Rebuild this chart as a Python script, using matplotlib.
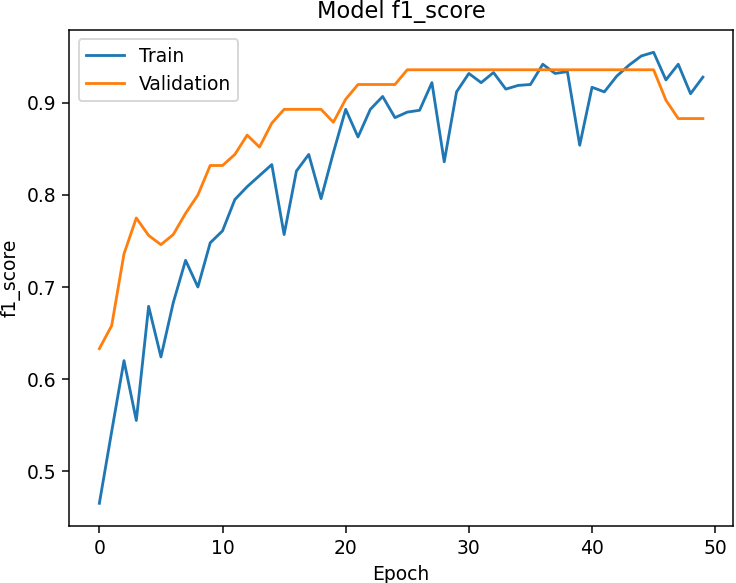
import numpy as np
import matplotlib
matplotlib.use('Agg')
import matplotlib.pyplot as plt

train = [0.465, 0.543, 0.620, 0.555, 0.679, 0.624, 0.683, 0.729, 0.700, 0.748,
         0.761, 0.795, 0.809, 0.821, 0.833, 0.757, 0.826, 0.844, 0.796, 0.846,
         0.893, 0.863, 0.893, 0.907, 0.884, 0.890, 0.892, 0.922, 0.836, 0.912,
         0.932, 0.922, 0.933, 0.915, 0.919, 0.920, 0.942, 0.932, 0.934, 0.854,
         0.917, 0.912, 0.929, 0.941, 0.951, 0.955, 0.925, 0.942, 0.910, 0.928]
val = [0.633, 0.658, 0.736, 0.775, 0.756, 0.746, 0.757, 0.780, 0.800, 0.832,
       0.832, 0.844, 0.865, 0.852, 0.878, 0.893, 0.893, 0.893, 0.893, 0.879,
       0.904, 0.920, 0.920, 0.920, 0.920, 0.936, 0.936, 0.936, 0.936, 0.936,
       0.936, 0.936, 0.936, 0.936, 0.936, 0.936, 0.936, 0.936, 0.936, 0.936,
       0.936, 0.936, 0.936, 0.936, 0.936, 0.936, 0.903, 0.883, 0.883, 0.883]

# reference looks like a tight-cropped default plot scaled up ~1.35x
dpi = 135
fig = plt.figure(figsize=(736 / dpi, 583 / dpi), dpi=dpi)
plt.subplots_adjust(left=0.094, right=0.996, top=0.949, bottom=0.098)
plt.plot(train)
plt.plot(val)
plt.title('Model f1_score')
plt.ylabel('f1_score', labelpad=3)
plt.xlabel('Epoch')
plt.legend(['Train', 'Validation'], loc='upper left')
plt.savefig('out.png', dpi=dpi)
